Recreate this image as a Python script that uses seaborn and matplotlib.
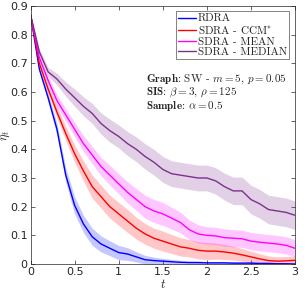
import numpy as np
import pandas as pd
import seaborn as sns
import matplotlib.pyplot as plt

# time grid (read every 0.1)
t = [0.0, 0.1, 0.2, 0.3, 0.4, 0.5, 0.6, 0.7, 0.8, 0.9, 1.0,
     1.1, 1.2, 1.3, 1.4, 1.5, 1.6, 1.7, 1.8, 1.9, 2.0,
     2.1, 2.2, 2.3, 2.4, 2.5, 2.6, 2.7, 2.8, 2.9, 3.0]

rdra = [0.87, 0.68, 0.58, 0.47, 0.31, 0.205, 0.14, 0.095, 0.07, 0.055, 0.04,
        0.035, 0.025, 0.015, 0.012, 0.01, 0.008, 0.006, 0.005, 0.005, 0.004,
        0.004, 0.004, 0.003, 0.003, 0.003, 0.002, 0.002, 0.001, 0.001, 0.0]
rdra_hw = [0.0, 0.01, 0.015, 0.02, 0.025, 0.03, 0.03, 0.03, 0.028, 0.026, 0.025,
           0.022, 0.018, 0.015, 0.012, 0.01, 0.008, 0.007, 0.006, 0.006, 0.005,
           0.005, 0.005, 0.005, 0.005, 0.005, 0.004, 0.004, 0.004, 0.004, 0.004]

ccm = [0.87, 0.70, 0.61, 0.53, 0.455, 0.385, 0.325, 0.27, 0.235, 0.20, 0.175,
       0.15, 0.125, 0.105, 0.09, 0.08, 0.07, 0.06, 0.055, 0.048, 0.045,
       0.045, 0.042, 0.038, 0.032, 0.025, 0.018, 0.012, 0.01, 0.011, 0.013]
ccm_hw = [0.0, 0.01, 0.015, 0.02, 0.025, 0.03, 0.035, 0.04, 0.04, 0.04, 0.04,
          0.04, 0.038, 0.036, 0.035, 0.035, 0.033, 0.032, 0.03, 0.03, 0.03,
          0.028, 0.026, 0.024, 0.022, 0.02, 0.018, 0.016, 0.015, 0.015, 0.015]

mean = [0.87, 0.72, 0.64, 0.57, 0.52, 0.47, 0.42, 0.38, 0.34, 0.31, 0.28,
        0.25, 0.225, 0.20, 0.185, 0.175, 0.16, 0.145, 0.12, 0.105, 0.10,
        0.098, 0.092, 0.09, 0.088, 0.08, 0.076, 0.073, 0.07, 0.065, 0.055]
mean_hw = [0.0, 0.01, 0.015, 0.02, 0.022, 0.025, 0.028, 0.03, 0.032, 0.034, 0.035,
           0.037, 0.038, 0.04, 0.04, 0.04, 0.038, 0.036, 0.034, 0.032, 0.03,
           0.03, 0.03, 0.03, 0.03, 0.03, 0.03, 0.03, 0.03, 0.03, 0.03]

median = [0.87, 0.74, 0.67, 0.645, 0.61, 0.58, 0.55, 0.525, 0.49, 0.465, 0.445,
          0.42, 0.40, 0.375, 0.355, 0.33, 0.315, 0.31, 0.305, 0.30, 0.30,
          0.29, 0.27, 0.255, 0.255, 0.225, 0.21, 0.19, 0.185, 0.18, 0.17]
median_hw = [0.0, 0.01, 0.015, 0.02, 0.025, 0.03, 0.033, 0.035, 0.037, 0.04, 0.04,
             0.042, 0.043, 0.044, 0.045, 0.045, 0.045, 0.045, 0.045, 0.045, 0.045,
             0.046, 0.047, 0.048, 0.048, 0.05, 0.05, 0.05, 0.05, 0.05, 0.05]

labels = ['RDRA', 'SDRA - CCM$^{*}$', 'SDRA - MEAN', 'SDRA - MEDIAN']
colors = ['#0000ff', '#ff0000', '#ff00ff', '#7e2f8e']
series = [rdra, ccm, mean, median]
halfw = [rdra_hw, ccm_hw, mean_hw, median_hw]

sns.set_style('ticks')
plt.rcParams['mathtext.fontset'] = 'cm'
plt.rcParams['font.family'] = ['DejaVu Sans']
plt.rcParams['axes.unicode_minus'] = False

df = pd.concat([pd.DataFrame({'t': t, 'eta': s, 'method': lab})
                for s, lab in zip(series, labels)])

fig = plt.figure(figsize=(3.05, 2.95), dpi=100)
ax = fig.add_axes([0.1, 0.105, 0.867, 0.875])

# shaded bands around each curve
for s, hw, c in zip(series, halfw, colors):
    s = np.array(s)
    hw = np.array(hw)
    ax.fill_between(t, np.clip(s - hw, 0, None), s + hw, color=c, alpha=0.22, lw=0)

sns.lineplot(data=df, x='t', y='eta', hue='method', palette=colors,
             linewidth=1.0, ax=ax)

ax.set_xlim(0, 3)
ax.set_ylim(0, 0.9)
ax.set_xticks([0, 0.5, 1, 1.5, 2, 2.5, 3])
ax.set_xticklabels(['0', '0.5', '1', '1.5', '2', '2.5', '3'])
ax.set_yticks(np.arange(0, 0.91, 0.1))
ax.set_yticklabels(['0'] + ['%.1f' % v for v in np.arange(0.1, 0.91, 0.1)])
ax.tick_params(direction='in', top=True, right=True, length=3, width=0.5,
               labelsize=8, colors='#262626', pad=2)
for sp in ax.spines.values():
    sp.set_visible(True)
    sp.set_linewidth(0.5)
    sp.set_color('#262626')

ax.set_xlabel(r'$t$', fontsize=9, labelpad=1)
ax.set_ylabel(r'$\eta_t$', fontsize=9)
ax.yaxis.set_label_coords(-0.07, 0.5)

leg = ax.legend(loc='upper right', frameon=True, fancybox=False,
                prop={'family': 'cmr10', 'size': 8},
                handlelength=1.6, handletextpad=0.2, borderpad=0.2,
                labelspacing=0.05, borderaxespad=0.5)
leg.get_frame().set_edgecolor('#262626')
leg.get_frame().set_linewidth(0.5)

notes = [r'$\mathbf{Graph}$: SW - $m = 5$, $p = 0.05$',
         r'$\mathbf{SIS}$: $\beta = 3$, $\rho = 125$',
         r'$\mathbf{Sample}$: $\alpha = 0.5$']
for i, s in enumerate(notes):
    ax.text(0.438, 0.705 - i * 0.053, s, transform=ax.transAxes,
            fontsize=8, family='cmr10')

fig.savefig('out.png', dpi=100)
